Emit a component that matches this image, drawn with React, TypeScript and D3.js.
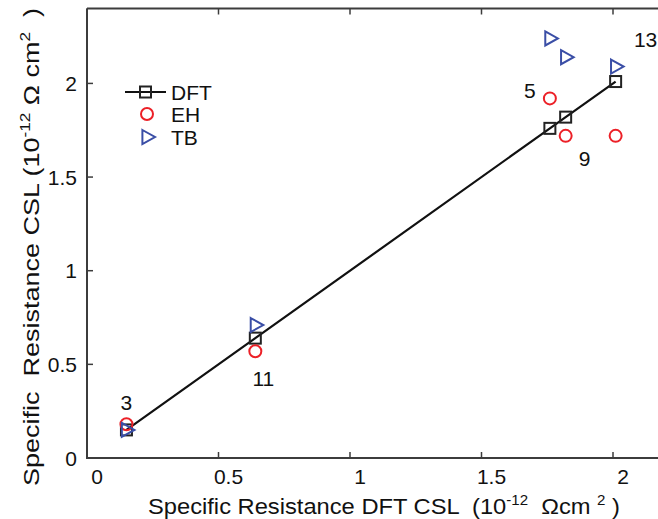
import React from "react";
import * as d3 from "d3";

const labels = ["3", "11", "5", "9", "13"];
const dftX = [0.15, 0.64, 1.76, 1.82, 2.01];
const dftY = [0.15, 0.64, 1.76, 1.82, 2.01];
const ehY = [0.18, 0.57, 1.92, 1.72, 1.72];
const tbY = [0.15, 0.71, 2.24, 2.14, 2.09];
const xTicks = [0, 0.5, 1, 1.5, 2];
const yTicks = [0, 0.5, 1, 1.5, 2];
const annot = [
  { i: 0, dx: 0, dy: -20 },
  { i: 1, dx: 8, dy: 48 },
  { i: 2, dx: -20, dy: -30 },
  { i: 3, dx: 19, dy: 49 },
  { i: 4, dx: 30, dy: -35 },
];

const W = 658;
const H = 519;
const left = 87;
const top = 8.5;
const bottom = 458;
const right = 665;

export default function App() {
  const x = d3.scaleLinear().domain([0, 2.2]).range([left, left + 2.2 * 263]);
  const y = d3.scaleLinear().domain([0, 2.4]).range([bottom, top]);
  const line = d3
    .line<number>()
    .x((_, i) => x(dftX[i]))
    .y((d) => y(d));
  const font = "'Liberation Sans', Arial, Helvetica, sans-serif";
  const tri = (cx: number, cy: number, s = 7) =>
    `M${cx - s * 0.8},${cy - s} L${cx + s * 1.0},${cy} L${cx - s * 0.8},${cy + s} Z`;
  const red = "#ec2027";
  const blue = "#3a4ea6";
  const axisC = "#3c3c3c";
  const fs = 21;
  return (
    <svg
      width={W}
      height={H}
      style={{ position: "absolute", left: 0, top: 0, background: "#fff" }}
      fontFamily={font}
    >
      <rect x={0} y={0} width={W} height={H} fill="#fff" />
      <path
        d={`M${left},${top} H${right} M${left},${top} V${bottom} H${right}`}
        stroke={axisC}
        strokeWidth={2}
        fill="none"
      />
      {xTicks.map((t) => (
        <g key={"xt" + t}>
          <line x1={x(t)} x2={x(t)} y1={bottom} y2={bottom - 6} stroke={axisC} strokeWidth={1.5} />
          <line x1={x(t)} x2={x(t)} y1={top} y2={top + 6} stroke={axisC} strokeWidth={1.5} />
          <text x={x(t) + 10} y={484} fontSize={fs} textAnchor="middle" fill="#111">
            {String(t)}
          </text>
        </g>
      ))}
      {yTicks.map((t) => (
        <g key={"yt" + t}>
          <line x1={left} x2={left + 6} y1={y(t)} y2={y(t)} stroke={axisC} strokeWidth={1.5} />
          <text x={77} y={y(t) + 7.5} fontSize={fs} textAnchor="end" fill="#111">
            {String(t)}
          </text>
        </g>
      ))}
      <path d={line(dftY) || ""} stroke="#111" strokeWidth={2.2} fill="none" />
      {dftY.map((v, i) => (
        <rect
          key={"sq" + i}
          x={x(dftX[i]) - 5.5}
          y={y(v) - 5.5}
          width={11}
          height={11}
          fill="none"
          stroke="#222"
          strokeWidth={2}
        />
      ))}
      {ehY.map((v, i) => (
        <circle key={"eh" + i} cx={x(dftX[i])} cy={y(v)} r={6} fill="none" stroke={red} strokeWidth={2} />
      ))}
      {tbY.map((v, i) => (
        <path key={"tb" + i} d={tri(x(dftX[i]) + 1, y(v))} fill="none" stroke={blue} strokeWidth={2} />
      ))}
      {annot.map((a) => (
        <text
          key={"an" + a.i}
          x={x(dftX[a.i]) + a.dx}
          y={y(dftY[a.i]) + a.dy}
          fontSize={fs}
          textAnchor="middle"
          fill="#111"
        >
          {labels[a.i]}
        </text>
      ))}
      <g>
        <line x1={125} x2={166} y1={92} y2={92} stroke="#111" strokeWidth={2.2} />
        <rect x={140} y={86.5} width={11} height={11} fill="none" stroke="#222" strokeWidth={2} />
        <text x={171} y={99.5} fontSize={fs} fill="#111">DFT</text>
        <circle cx={147} cy={114} r={6} fill="none" stroke={red} strokeWidth={2} />
        <text x={171} y={121.5} fontSize={fs} fill="#111">EH</text>
        <path d={tri(148, 137)} fill="none" stroke={blue} strokeWidth={2} />
        <text x={171} y={144.5} fontSize={fs} fill="#111">TB</text>
      </g>
      <text
        x={148}
        y={514}
        fontSize={22}
        fill="#111"
        xmlSpace="preserve"
        textLength={472}
        lengthAdjust="spacingAndGlyphs"
      >
        <tspan>{"Specific Resistance DFT CSL  (10"}</tspan>
        <tspan fontSize={14} dy={-9}>{"-12"}</tspan>
        <tspan dy={9}>{"  Ωcm "}</tspan>
        <tspan fontSize={14} dy={-9}>{"2"}</tspan>
        <tspan dy={9}>{" )"}</tspan>
      </text>
      <text
        transform="translate(39,486) rotate(-90)"
        x={0}
        y={0}
        fontSize={22}
        fill="#111"
        xmlSpace="preserve"
        textLength={478}
        lengthAdjust="spacingAndGlyphs"
      >
        <tspan>{"Specific  Resistance CSL (10"}</tspan>
        <tspan fontSize={14} dy={-9}>{"-12"}</tspan>
        <tspan dy={9}>{" Ω cm"}</tspan>
        <tspan fontSize={14} dy={-9}>{"2"}</tspan>
        <tspan dy={9}>{"  )"}</tspan>
      </text>
    </svg>
  );
}
